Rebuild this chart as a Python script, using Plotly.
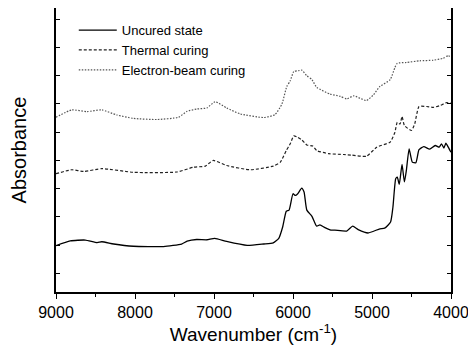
import plotly.graph_objects as go

# Wavenumber (cm-1) and absorbance (arbitrary, offset)
uncured_x = [9000, 8820, 8630, 8480, 8420, 8270, 8020, 7640, 7410, 7340, 7220, 7090, 6990, 6840,
             6580, 6370, 6250, 6180, 6130, 6085, 6050, 6000, 5970, 5940, 5890, 5860, 5825, 5760,
             5700, 5660, 5595, 5520, 5470, 5320, 5245, 5175, 5050, 4900, 4840, 4765, 4735, 4700,
             4680, 4655, 4620, 4590, 4565, 4530, 4490, 4445, 4405, 4345, 4270, 4200, 4150, 4120,
             4090, 4065, 4035, 4000]
uncured_y = [0.98, 1.15, 1.18, 1.09, 1.12, 1.04, 0.96, 0.95, 1.04, 1.14, 1.20, 1.19, 1.24, 1.13,
             0.99, 1.04, 1.08, 1.24, 1.65, 2.20, 2.24, 2.82, 2.76, 2.82, 3.02, 2.88, 2.24, 2.02,
             1.67, 1.72, 1.62, 1.53, 1.53, 1.50, 1.67, 1.55, 1.43, 1.58, 1.60, 1.82, 2.35, 3.35,
             3.41, 3.15, 3.86, 3.24, 3.65, 4.41, 3.94, 3.92, 4.38, 4.49, 4.40, 4.53, 4.47, 4.59,
             4.44, 4.61, 4.47, 4.29]

thermal_x = [9000, 8800, 8650, 8420, 8020, 7470, 7260, 7110, 7010, 6840, 6540, 6250, 6160, 6085,
             6035, 5990, 5940, 5890, 5825, 5750, 5700, 5550, 5360, 5260, 5070, 4940, 4770, 4710,
             4680, 4645, 4620, 4590, 4500, 4460, 4405, 4310, 4225, 4140, 4055, 4000]
thermal_y = [3.53, 3.67, 3.61, 3.71, 3.58, 3.59, 3.76, 3.80, 4.00, 3.82, 3.67, 3.80, 3.94, 4.35,
             4.59, 4.87, 4.82, 4.73, 4.55, 4.51, 4.35, 4.24, 4.21, 4.19, 4.15, 4.47, 4.65, 5.00,
             5.35, 5.29, 5.56, 5.24, 5.06, 5.29, 5.91, 5.91, 5.88, 5.94, 6.05, 6.02]

ebeam_x = [9000, 8800, 8610, 8420, 8230, 8020, 7720, 7450, 7340, 7220, 7090, 6985, 6840, 6670,
           6370, 6230, 6140, 6080, 6035, 5990, 5930, 5890, 5825, 5760, 5700, 5530, 5400, 5320,
           5230, 5150, 5070, 4980, 4900, 4770, 4710, 4680, 4565, 4395, 4225, 4100, 4035, 4000]
ebeam_y = [5.53, 5.79, 5.73, 5.79, 5.61, 5.49, 5.45, 5.53, 5.74, 5.82, 5.86, 6.08, 5.86, 5.65,
           5.52, 5.62, 6.00, 6.61, 6.82, 7.15, 7.18, 7.20, 7.00, 6.86, 6.59, 6.35, 6.27, 6.18,
           6.29, 6.20, 6.12, 6.33, 6.62, 6.86, 7.29, 7.44, 7.47, 7.53, 7.55, 7.62, 7.71, 7.65]

series_names = ["Uncured state", "Thermal curing", "Electron-beam curing"]
x_tickvals = [9000, 8000, 7000, 6000, 5000, 4000]
y_tickvals = list(range(0, 10))

FONT = "Arial, Liberation Sans, sans-serif"

fig = go.Figure()
fig.add_trace(go.Scatter(x=uncured_x, y=uncured_y, mode="lines", name=series_names[0],
                         line=dict(color="black", width=1.3, shape="spline", smoothing=0.5)))
fig.add_trace(go.Scatter(x=thermal_x, y=thermal_y, mode="lines", name=series_names[1],
                         line=dict(color="#222222", width=1.2, dash="3px,2px", shape="spline", smoothing=0.5)))
fig.add_trace(go.Scatter(x=ebeam_x, y=ebeam_y, mode="lines", name=series_names[2],
                         line=dict(color="#555555", width=1.2, dash="1.5px,1.5px", shape="spline", smoothing=0.5)))

fig.update_layout(
    width=468, height=340,
    margin=dict(l=48, r=25, t=0, b=56),
    paper_bgcolor="white", plot_bgcolor="white",
    font=dict(family=FONT, color="black"),
    showlegend=True,
    legend=dict(x=0.045, y=0.975, xanchor="left", yanchor="top",
                bgcolor="rgba(0,0,0,0)", font=dict(size=13, family=FONT),
                tracegroupgap=0, itemwidth=38),
    xaxis=dict(
        range=[9000, 4000], tickvals=x_tickvals, automargin=False,
        ticks="outside", ticklen=5, tickwidth=1.2, tickcolor="black",
        minor=dict(dtick=500, ticks="outside", ticklen=3, tickcolor="black"),
        showline=True, linecolor="black", linewidth=1.5, mirror="allticks",
        showgrid=False, zeroline=False,
        tickfont=dict(size=16, family=FONT),
        title=dict(text="Wavenumber (cm<sup>-1</sup>)", font=dict(size=19, family=FONT), standoff=3),
    ),
    yaxis=dict(
        range=[-0.66, 9.4], tickvals=y_tickvals, showticklabels=False, automargin=False,
        ticks="inside", ticklen=4, tickcolor="black",
        showline=True, linecolor="black", linewidth=1.5, mirror="ticks",
        showgrid=False, zeroline=False,
        title=dict(text="Absorbance", font=dict(size=20, family=FONT), standoff=22),
    ),
)

fig.write_html("out.html")
